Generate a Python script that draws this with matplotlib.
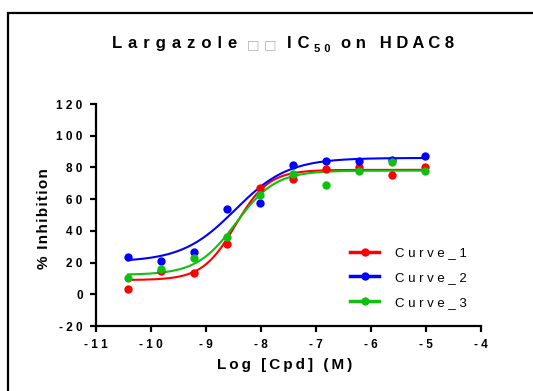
"""
Largazole IC50 on HDAC8 - three dose-response curves
"""
import numpy as np
import matplotlib
matplotlib.use('Agg')
import matplotlib.pyplot as plt
from matplotlib.lines import Line2D
from matplotlib.patches import Rectangle

plt.rcParams['font.family'] = ['Liberation Sans', 'DejaVu Sans']

# log concentrations (M)
log_conc = [-10.42, -9.82, -9.22, -8.62, -8.02, -7.42, -6.82, -6.22, -5.62, -5.02]

# % inhibition for each curve
curve_1 = [3.6, 15.0, 13.7, 32.0, 67.0, 73.0, 79.0, 80.5, 75.5, 80.5]
curve_2 = [23.8, 21.0, 26.5, 53.5, 57.7, 81.3, 83.8, 84.3, 84.5, 87.4]
curve_3 = [10.1, 15.8, 23.2, 35.9, 62.7, 76.0, 69.0, 78.0, 83.2, 78.0]

# fitted 4PL parameters: bottom, top, logIC50, hill slope
fit_1 = [9.0, 78.5, -8.46, 1.44]
fit_2 = [20.5, 86.0, -8.47, 0.90]
fit_3 = [12.3, 78.0, -8.45, 1.21]

names = ['Curve_1', 'Curve_2', 'Curve_3']
colors = ['#ff0000', '#0000ff', '#10c010']

x_ticks = [-11, -10, -9, -8, -7, -6, -5, -4]
y_ticks = [-20, 0, 20, 40, 60, 80, 100, 120]

W, H = 533, 391


def spaced(s, gap=' '):
    return gap.join(s)


def four_pl(x, p):
    bottom, top, logic50, hill = p
    return bottom + (top - bottom) / (1 + 10 ** ((logic50 - x) * hill))


fig = plt.figure(figsize=(5.33, 3.91), dpi=100)
ax = fig.add_axes([0.180, 0.166, 0.722, 0.568])

xs = np.linspace(min(log_conc), max(log_conc), 300)
for y, p, c in zip([curve_1, curve_2, curve_3], [fit_1, fit_2, fit_3], colors):
    ax.plot(xs, four_pl(xs, p), color=c, lw=1.5, zorder=2)
    ax.plot(log_conc, y, 'o', color=c, ms=6, mec='none', zorder=3, clip_on=False)

ax.set_xlim(-11, -4)
ax.set_ylim(-20, 120)
ax.set_xticks(x_ticks)
ax.set_yticks(y_ticks)
ax.set_xticklabels([spaced(str(t)) for t in x_ticks], fontweight='bold', fontsize=8.5)
ax.set_yticklabels([spaced(str(t)) for t in y_ticks], fontweight='bold', fontsize=8.5)

for s in ['top', 'right']:
    ax.spines[s].set_visible(False)
for s in ['left', 'bottom']:
    ax.spines[s].set_linewidth(1.6)
ax.tick_params(width=1.6, length=4.5, direction='out', pad=5)

ax.set_xlabel(spaced('Log [Cpd] (M)', '\u2009'), fontweight='bold', fontsize=11)
ax.xaxis.set_label_coords(0.49, -0.145)
ax.set_ylabel(spaced('% Inhibition', '\u200a'), fontweight='bold', fontsize=11)
ax.yaxis.set_label_coords(-0.117, 0.486)

# title in pieces: the two missing glyphs show as grey boxes
base = 1 - 48 / H
tkw = dict(fontweight='bold', fontsize=12, va='baseline', ha='left')
fig.text(112 / W, base, spaced('Largazole', ' \u200a'), **tkw)
fig.text(247 / W, base, '\u25a1', fontsize=9.5, color='#b0b0b0', va='baseline',
         family='DejaVu Sans')
fig.text(264 / W, base, '\u25a1', fontsize=9.5, color='#b0b0b0', va='baseline',
         family='DejaVu Sans')
fig.text(287 / W, base, spaced('IC', ' \u200a'), **tkw)
fig.text(314 / W, base - 4 / H, spaced('50', ' \u200a'), fontweight='bold', fontsize=8,
         va='baseline', ha='left')
fig.text(341 / W, base, spaced('on HDAC8'), **tkw)

handles = [Line2D([], [], color=c, lw=2.5, marker='o', ms=6, mec='none') for c in colors]
ax.legend(handles, [spaced(n) for n in names], loc='upper left',
          bbox_to_anchor=(0.63, 0.41), frameon=False, fontsize=9.5,
          handlelength=2.2, handletextpad=1.2, labelspacing=0.95)

# outer frame
fig.add_artist(Rectangle((0.015, -0.05), 1.2, 0.967 + 0.05, transform=fig.transFigure,
                         fill=False, lw=1.6, edgecolor='black'))

fig.savefig('out.png', dpi=100)
